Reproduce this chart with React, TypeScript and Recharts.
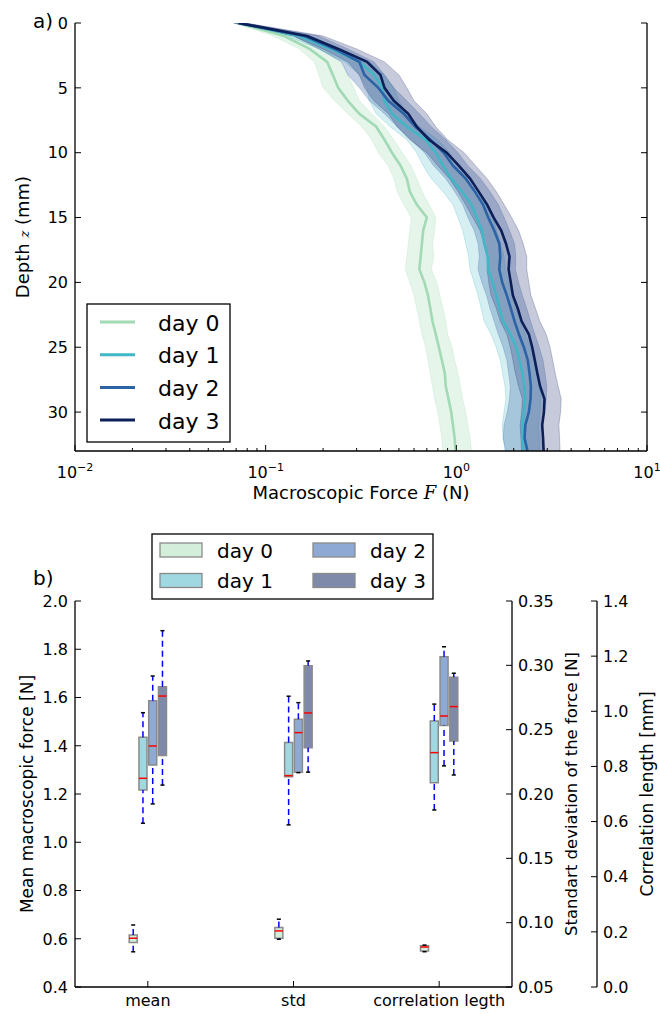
import React from 'react';
import {
  ComposedChart, Line, Area, XAxis, YAxis, ReferenceArea, ReferenceLine,
} from 'recharts';

const FONT = '"DejaVu Sans", sans-serif';
const TICK_FONT = 16;

// ---------- panel a) : force profiles vs depth ----------
const DEPTH = [0, 1, 2, 3, 4, 5, 6, 7, 8, 9, 10, 11, 12, 13, 14, 15, 16, 17, 18, 19, 20, 21, 22, 23, 24, 25, 26, 27, 28, 29, 30, 31, 32, 33];

const DAY0 = [0.072, 0.125, 0.17, 0.21, 0.225, 0.24, 0.27, 0.31, 0.38, 0.42, 0.46, 0.51, 0.55, 0.57, 0.62, 0.70, 0.67, 0.66, 0.65, 0.64, 0.68, 0.71, 0.73, 0.75, 0.78, 0.81, 0.84, 0.87, 0.88, 0.91, 0.94, 0.96, 0.98, 0.99];
const DAY0_LO = [0.068, 0.11, 0.15, 0.18, 0.19, 0.20, 0.23, 0.27, 0.32, 0.36, 0.39, 0.44, 0.47, 0.49, 0.53, 0.58, 0.57, 0.56, 0.55, 0.54, 0.57, 0.60, 0.62, 0.64, 0.66, 0.69, 0.71, 0.73, 0.75, 0.77, 0.80, 0.82, 0.84, 0.85];
const DAY0_HI = [0.076, 0.14, 0.20, 0.25, 0.27, 0.29, 0.31, 0.36, 0.42, 0.47, 0.52, 0.58, 0.62, 0.66, 0.72, 0.78, 0.77, 0.75, 0.76, 0.74, 0.79, 0.82, 0.85, 0.88, 0.90, 0.95, 0.98, 1.02, 1.05, 1.08, 1.12, 1.15, 1.18, 1.20];

const DAY1 = [0.072, 0.15, 0.22, 0.31, 0.37, 0.41, 0.42, 0.46, 0.55, 0.69, 0.78, 0.85, 0.94, 1.07, 1.20, 1.28, 1.36, 1.40, 1.46, 1.47, 1.55, 1.62, 1.68, 1.76, 1.92, 2.06, 2.14, 2.22, 2.27, 2.30, 2.26, 2.22, 2.22, 2.25];
const DAY1_LO = [0.068, 0.13, 0.19, 0.26, 0.31, 0.34, 0.35, 0.38, 0.45, 0.55, 0.62, 0.67, 0.74, 0.85, 0.96, 1.02, 1.08, 1.12, 1.16, 1.18, 1.24, 1.30, 1.35, 1.40, 1.52, 1.62, 1.70, 1.75, 1.80, 1.82, 1.78, 1.74, 1.76, 1.80];
const DAY1_HI = [0.077, 0.17, 0.25, 0.35, 0.42, 0.47, 0.50, 0.55, 0.64, 0.80, 0.92, 1.02, 1.12, 1.28, 1.42, 1.55, 1.63, 1.70, 1.78, 1.80, 1.88, 1.96, 2.05, 2.15, 2.30, 2.45, 2.55, 2.65, 2.72, 2.78, 2.75, 2.70, 2.72, 2.75];

const DAY2 = [0.072, 0.16, 0.23, 0.31, 0.33, 0.39, 0.44, 0.53, 0.61, 0.73, 0.86, 0.96, 1.12, 1.25, 1.38, 1.47, 1.58, 1.68, 1.70, 1.68, 1.74, 1.84, 1.93, 2.02, 2.13, 2.26, 2.37, 2.42, 2.46, 2.45, 2.40, 2.30, 2.28, 2.36];
const DAY2_LO = [0.068, 0.14, 0.19, 0.25, 0.27, 0.31, 0.35, 0.42, 0.49, 0.58, 0.68, 0.76, 0.88, 0.98, 1.08, 1.15, 1.24, 1.30, 1.32, 1.30, 1.36, 1.44, 1.50, 1.58, 1.66, 1.76, 1.84, 1.88, 1.92, 1.90, 1.85, 1.78, 1.76, 1.82];
const DAY2_HI = [0.078, 0.19, 0.27, 0.37, 0.42, 0.47, 0.55, 0.64, 0.74, 0.88, 1.02, 1.15, 1.34, 1.50, 1.66, 1.78, 1.90, 2.02, 2.05, 2.04, 2.12, 2.22, 2.34, 2.45, 2.58, 2.72, 2.85, 2.92, 2.98, 2.96, 2.90, 2.80, 2.78, 2.86];

const DAY3 = [0.072, 0.165, 0.24, 0.34, 0.40, 0.42, 0.47, 0.56, 0.62, 0.72, 0.89, 1.03, 1.18, 1.31, 1.45, 1.57, 1.72, 1.82, 1.90, 1.88, 1.93, 1.98, 2.10, 2.20, 2.40, 2.50, 2.58, 2.66, 2.75, 2.90, 2.88, 2.82, 2.85, 2.87];
const DAY3_LO = [0.068, 0.14, 0.20, 0.27, 0.31, 0.33, 0.37, 0.44, 0.49, 0.57, 0.70, 0.80, 0.92, 1.02, 1.12, 1.22, 1.33, 1.40, 1.46, 1.45, 1.48, 1.52, 1.62, 1.70, 1.84, 1.92, 1.98, 2.04, 2.12, 2.22, 2.20, 2.16, 2.18, 2.20];
const DAY3_HI = [0.078, 0.20, 0.30, 0.42, 0.50, 0.55, 0.60, 0.70, 0.78, 0.90, 1.10, 1.26, 1.45, 1.62, 1.78, 1.95, 2.12, 2.24, 2.34, 2.34, 2.40, 2.46, 2.60, 2.74, 2.96, 3.10, 3.20, 3.30, 3.42, 3.55, 3.52, 3.45, 3.48, 3.50];

const DEPTH_TICKS = [0, 5, 10, 15, 20, 25, 30];
const LOG_TICKS = [
  0.01, 0.02, 0.03, 0.04, 0.05, 0.06, 0.07, 0.08, 0.09,
  0.1, 0.2, 0.3, 0.4, 0.5, 0.6, 0.7, 0.8, 0.9,
  1, 2, 3, 4, 5, 6, 7, 8, 9, 10,
];

const DAYS = ['day 0', 'day 1', 'day 2', 'day 3'];
const LINE_COLORS = ['#a1dab4', '#41b6c4', '#2c62a6', '#0d1f58'];
const BAND_COLORS = ['#a1dab4', '#41b6c4', '#3a68a8', '#1f2d6b'];
const BAND_OPACITY = [0.28, 0.22, 0.3, 0.25];

const profileRows = DEPTH.map((d, i) => ({
  depth: d,
  d0: DAY0[i], b0: [DAY0_LO[i], DAY0_HI[i]],
  d1: DAY1[i], b1: [DAY1_LO[i], DAY1_HI[i]],
  d2: DAY2[i], b2: [DAY2_LO[i], DAY2_HI[i]],
  d3: DAY3[i], b3: [DAY3_LO[i], DAY3_HI[i]],
}));

// ---------- panel b) : box plots ----------
const CATEGORIES = ['mean', 'std', 'correlation legth'];
// [whisker low, q1, median, q3, whisker high] for day 0..3
const MEAN_STATS = [
  [0.546, 0.584, 0.602, 0.616, 0.657],
  [1.079, 1.217, 1.265, 1.435, 1.537],
  [1.159, 1.320, 1.399, 1.587, 1.689],
  [1.237, 1.360, 1.606, 1.645, 1.877],
];
const STD_STATS = [
  [0.0871, 0.0879, 0.0936, 0.0962, 0.1027],
  [0.176, 0.2135, 0.2143, 0.240, 0.276],
  [0.2166, 0.217, 0.2477, 0.258, 0.271],
  [0.217, 0.236, 0.263, 0.2997, 0.3034],
];
const CORR_STATS = [
  [0.128, 0.1305, 0.145, 0.150, 0.152],
  [0.642, 0.741, 0.850, 0.965, 1.026],
  [0.802, 0.948, 0.983, 1.198, 1.234],
  [0.769, 0.892, 1.017, 1.123, 1.138],
];
const MEAN_TICKS = [0.4, 0.6, 0.8, 1.0, 1.2, 1.4, 1.6, 1.8, 2.0];
const STD_TICKS = [0.05, 0.1, 0.15, 0.2, 0.25, 0.3, 0.35];
const CORR_TICKS = [0, 0.2, 0.4, 0.6, 0.8, 1.0, 1.2, 1.4];

const BOX_FILLS = ['#d3eedb', '#9fd8e0', '#8eaad4', '#7f8aab'];
const BOX_EDGE = '#8a8a8a';

// ---------- tick renderers ----------
const leftTick = (fmt?: (v: number) => string) => (p: any) => {
  const { x, y, payload } = p;
  return (
    <g>
      <line x1={x} y1={y} x2={x + 6} y2={y} stroke="#000" strokeWidth={1} />
      {fmt && (
        <text x={x - 7} y={y} dy="0.36em" textAnchor="end" fontSize={TICK_FONT} fontFamily={FONT} fill="#000">
          {fmt(payload.value)}
        </text>
      )}
    </g>
  );
};

const rightTick = (fmt?: (v: number) => string) => (p: any) => {
  const { x, y, payload } = p;
  return (
    <g>
      <line x1={x} y1={y} x2={x - 6} y2={y} stroke="#000" strokeWidth={1} />
      {fmt && (
        <text x={x + 6} y={y} dy="0.36em" textAnchor="start" fontSize={TICK_FONT} fontFamily={FONT} fill="#000">
          {fmt(payload.value)}
        </text>
      )}
    </g>
  );
};

const isMajor = (v: number) => Math.abs(Math.log10(v) - Math.round(Math.log10(v))) < 1e-9;

const logTick = (bottom: boolean) => (p: any) => {
  const { x, y, payload } = p;
  const v = payload.value;
  const major = isMajor(v);
  const len = major ? 6 : 3;
  const exp = Math.round(Math.log10(v));
  return (
    <g>
      <line x1={x} y1={y} x2={x} y2={bottom ? y - len : y + len} stroke="#000" strokeWidth={1} />
      {bottom && major && (
        <text x={x} y={y + 27} textAnchor="middle" fontSize={TICK_FONT} fontFamily={FONT} fill="#000">
          10<tspan dy={-7} fontSize={11}>{exp < 0 ? `\u2212${-exp}` : `${exp}`}</tspan>
        </text>
      )}
    </g>
  );
};

const catTick = (bottom: boolean) => (p: any) => {
  const { x, y, payload } = p;
  return (
    <g>
      <line x1={x} y1={y} x2={x} y2={bottom ? y - 6 : y + 6} stroke="#000" strokeWidth={1} />
      {bottom && (
        <text x={x} y={y + 19} textAnchor="middle" fontSize={TICK_FONT} fontFamily={FONT} fill="#000">
          {CATEGORIES[payload.value - 1]}
        </text>
      )}
    </g>
  );
};

const AXIS_LINE = { stroke: '#000', strokeWidth: 1.3 };

function BoxElements() {
  const stats = [MEAN_STATS, STD_STATS, CORR_STATS];
  const axes = ['mean', 'r1std', 'r2corr'];
  const OFF = 0.067;
  const W = 0.055;
  const CAP = 0.028;
  const whiskers: React.ReactNode[] = [];
  const boxes: React.ReactNode[] = [];
  const medians: React.ReactNode[] = [];
  stats.forEach((byDay, ci) => {
    byDay.forEach((s, di) => {
      const cx = ci + 1 + (di - 1.5) * OFF;
      const [lo, q1, med, q3, hi] = s;
      const ids = { xAxisId: 'b', yAxisId: axes[ci], ifOverflow: 'visible' as const };
      const k = `${ci}-${di}`;
      whiskers.push(
        <ReferenceLine key={`wh${k}`} {...ids} segment={[{ x: cx, y: q3 }, { x: cx, y: hi }]} stroke="#0000ff" strokeWidth={1.5} strokeDasharray="6 4" />,
        <ReferenceLine key={`wl${k}`} {...ids} segment={[{ x: cx, y: lo }, { x: cx, y: q1 }]} stroke="#0000ff" strokeWidth={1.5} strokeDasharray="6 4" />,
        <ReferenceLine key={`ch${k}`} {...ids} segment={[{ x: cx - CAP / 2, y: hi }, { x: cx + CAP / 2, y: hi }]} stroke="#000" strokeWidth={1.5} />,
        <ReferenceLine key={`cl${k}`} {...ids} segment={[{ x: cx - CAP / 2, y: lo }, { x: cx + CAP / 2, y: lo }]} stroke="#000" strokeWidth={1.5} />,
      );
      boxes.push(
        <ReferenceArea key={`b${k}`} {...ids} x1={cx - W / 2} x2={cx + W / 2} y1={q1} y2={q3} fill={BOX_FILLS[di]} fillOpacity={1} stroke={BOX_EDGE} strokeWidth={1.5} />,
      );
      medians.push(
        <ReferenceLine key={`m${k}`} {...ids} segment={[{ x: cx - W / 2, y: med }, { x: cx + W / 2, y: med }]} stroke="#ff0000" strokeWidth={1.5} />,
      );
    });
  });
  return [...whiskers, ...boxes, ...medians];
}

export default function App() {
  return (
    <div style={{ position: 'absolute', left: 0, top: 0, width: 660, height: 1014, background: '#fff', overflow: 'hidden', fontFamily: FONT }}>
      {/* panel a */}
      <div style={{ position: 'absolute', left: 0, top: 0 }}>
        <ComposedChart width={660} height={510} layout="vertical" data={profileRows} margin={{ top: 23, right: 0, bottom: 0, left: 0 }}>
          <XAxis xAxisId="b" type="number" scale="log" domain={[0.01, 10]} allowDataOverflow ticks={LOG_TICKS} interval={0}
            orientation="bottom" height={59} tickSize={0} tickMargin={0} tick={logTick(true)} axisLine={AXIS_LINE} />
          <XAxis xAxisId="t" type="number" scale="log" domain={[0.01, 10]} allowDataOverflow ticks={LOG_TICKS} interval={0}
            orientation="top" height={0} tickSize={0} tickMargin={0} tick={logTick(false)} axisLine={AXIS_LINE} />
          <YAxis yAxisId="l" type="number" dataKey="depth" domain={[0, 33]} allowDataOverflow ticks={DEPTH_TICKS} interval={0}
            width={75} tickSize={0} tickMargin={0} tick={leftTick((v) => String(v))} axisLine={AXIS_LINE} />
          <YAxis yAxisId="r" orientation="right" type="number" dataKey="depth" domain={[0, 33]} allowDataOverflow ticks={DEPTH_TICKS} interval={0}
            width={13} tickSize={0} tickMargin={0} tick={rightTick()} axisLine={AXIS_LINE} />
          {[0, 1, 2, 3].map((i) => (
            <Area key={`band${i}`} xAxisId="b" yAxisId="l" type="linear" dataKey={`b${i}`} stroke={BAND_COLORS[i]} strokeOpacity={0.25}
              fill={BAND_COLORS[i]} fillOpacity={BAND_OPACITY[i]} isAnimationActive={false} dot={false} activeDot={false} />
          ))}
          {[0, 1, 2, 3].map((i) => (
            <Line key={`line${i}`} xAxisId="b" yAxisId="l" type="linear" dataKey={`d${i}`} stroke={LINE_COLORS[i]} strokeWidth={2.6}
              dot={false} activeDot={false} isAnimationActive={false} />
          ))}
        </ComposedChart>
      </div>

      {/* panel b */}
      <div style={{ position: 'absolute', left: 0, top: 540 }}>
        <ComposedChart width={660} height={474} data={[{ x: 1 }, { x: 2 }, { x: 3 }]} margin={{ top: 61, right: 0, bottom: 0, left: 0 }}>
          <XAxis xAxisId="b" type="number" dataKey="x" domain={[0.5, 3.5]} allowDataOverflow ticks={[1, 2, 3]} interval={0}
            orientation="bottom" height={27} tickSize={0} tickMargin={0} tick={catTick(true)} axisLine={AXIS_LINE} />
          <XAxis xAxisId="t" type="number" dataKey="x" domain={[0.5, 3.5]} allowDataOverflow ticks={[1, 2, 3]} interval={0}
            orientation="top" height={0} tickSize={0} tickMargin={0} tick={catTick(false)} axisLine={AXIS_LINE} />
          <YAxis yAxisId="mean" type="number" domain={[0.4, 2.0]} allowDataOverflow ticks={MEAN_TICKS} interval={0}
            width={75} tickSize={0} tickMargin={0} tick={leftTick((v) => v.toFixed(1))} axisLine={AXIS_LINE} />
          <YAxis yAxisId="r1std" orientation="right" type="number" domain={[0.05, 0.35]} allowDataOverflow ticks={STD_TICKS} interval={0}
            width={85} tickSize={0} tickMargin={0} tick={rightTick((v) => v.toFixed(2))} axisLine={AXIS_LINE} />
          <YAxis yAxisId="r2corr" orientation="right" type="number" domain={[0, 1.4]} allowDataOverflow ticks={CORR_TICKS} interval={0}
            width={63} tickSize={0} tickMargin={0} tick={rightTick((v) => v.toFixed(1))} axisLine={AXIS_LINE} />
          {BoxElements()}
        </ComposedChart>
      </div>

      {/* labels and legends */}
      <svg width={660} height={1014} style={{ position: 'absolute', left: 0, top: 0, pointerEvents: 'none' }} fontFamily={FONT}>
        <text x={33} y={28} fontSize={20}>a)</text>
        <text x={361} y={499} fontSize={18} textAnchor="middle">
          Macroscopic Force <tspan fontFamily='"DejaVu Serif", serif' fontStyle="italic">F</tspan> (N)
        </text>
        <text transform="translate(29,237) rotate(-90)" fontSize={18} textAnchor="middle">
          Depth <tspan fontFamily='"DejaVu Serif", serif' fontStyle="italic" fontSize={13}>z</tspan> (mm)
        </text>

        <rect x={87} y={304} width={143} height={138} fill="#fff" stroke="#000" strokeWidth={1.3} />
        {DAYS.map((d, i) => (
          <g key={d}>
            <line x1={100} x2={135} y1={322 + i * 32.7} y2={322 + i * 32.7} stroke={LINE_COLORS[i]} strokeWidth={3} />
            <text x={158} y={330.5 + i * 32.7} fontSize={22}>{d}</text>
          </g>
        ))}

        <text x={33} y={585} fontSize={20}>b)</text>
        <rect x={152} y={534} width={281} height={65} fill="#fff" stroke="#000" strokeWidth={1.3} />
        {DAYS.map((d, i) => {
          const col = Math.floor(i / 2);
          const row = i % 2;
          const px = col === 0 ? 160 : 313;
          const cy = row === 0 ? 550 : 580.5;
          return (
            <g key={`leg${d}`}>
              <rect x={px} y={cy - 7} width={42} height={14} fill={BOX_FILLS[i]} stroke={BOX_EDGE} strokeWidth={1.3} />
              <text x={px + 57} y={cy + 7.5} fontSize={20}>{d}</text>
            </g>
          );
        })}

        <text transform="translate(33,794) rotate(-90)" fontSize={17} textAnchor="middle">Mean macroscopic force [N]</text>
        <text transform="translate(577,794) rotate(-90)" fontSize={16.5} textAnchor="middle">Standart deviation of the force [N]</text>
        <text transform="translate(653,794) rotate(-90)" fontSize={17} textAnchor="middle">Correlation length [mm]</text>
      </svg>
    </div>
  );
}
